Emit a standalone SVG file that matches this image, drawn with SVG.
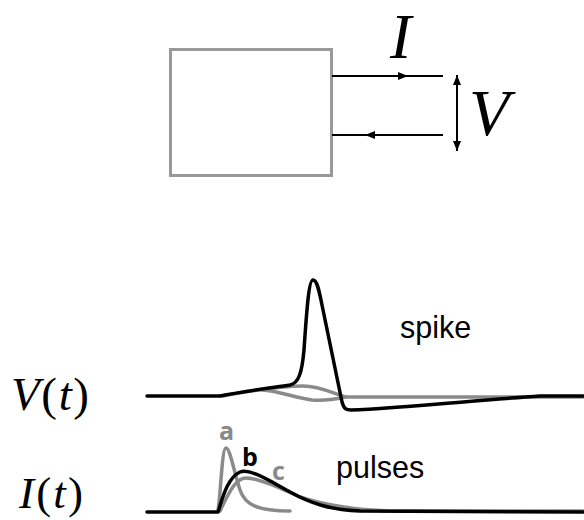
<svg xmlns="http://www.w3.org/2000/svg" width="584" height="520" viewBox="0 0 584 520">
<style>
.math{font-family:"Liberation Serif","DejaVu Serif",serif;fill:#000}
.it{font-style:italic}
.lbl{font-family:"Liberation Sans",Arial,sans-serif;fill:#000}
.ltr{font-family:"Open Sans","Liberation Sans",sans-serif;font-weight:bold;font-size:25px}
.wire{stroke:#000;stroke-width:2;fill:none}
.blk{stroke:#000;stroke-width:3.5;fill:none;stroke-linejoin:round;stroke-linecap:round}
.gry{stroke:#8a8a8a;stroke-width:3.5;fill:none;stroke-linejoin:round;stroke-linecap:round}
</style>
<defs>
<marker id="ah" viewBox="0 0 10 10" refX="10" refY="5" markerWidth="10" markerHeight="10" markerUnits="userSpaceOnUse" orient="auto">
<path d="M0,1 L10,5 L0,9 Z" fill="#000"/>
</marker>
</defs>
<g id="box">
<rect x="170.5" y="49.5" width="161" height="126" fill="#fff" stroke="#999" stroke-width="3"/>
</g>
<g id="connectors">
<line class="wire" x1="332" y1="76" x2="443" y2="76"/>
<line class="wire" x1="332" y1="76" x2="408" y2="76" marker-end="url(#ah)"/>
<line class="wire" x1="332" y1="135" x2="443" y2="135"/>
<line class="wire" x1="443" y1="135" x2="365" y2="135" marker-end="url(#ah)"/>
<line class="wire" x1="457" y1="100" x2="457" y2="75" marker-end="url(#ah)"/>
<line class="wire" x1="457" y1="100" x2="457" y2="151" marker-end="url(#ah)"/>
</g>
<g id="label-I"><text class="math it" x="390" y="58" font-size="64">I</text></g>
<g id="label-V"><text class="math it" x="469" y="135" font-size="66">V</text></g>
<g id="label-Vt"><text class="math" x="11" y="410" font-size="47" textLength="78"><tspan class="it">V</tspan>(<tspan class="it">t</tspan>)</text></g>
<g id="label-It"><text class="math" x="19" y="508" font-size="45" textLength="64"><tspan class="it">I</tspan>(<tspan class="it">t</tspan>)</text></g>
<g id="voltage">
<path class="gry" d="M343,397 L583,397"/>
<path class="gry" d="M222,396 C245,392 275,386 303,386 C320,386 332,393 345,397"/>
<path class="gry" d="M262,390 C280,391 295,398 312,400 C326,401 336,399 345,397"/>
<path class="blk" d="M147,396 L220,396 C240,392 270,388 290,385 C299,383 302,372 304,350 C307,305 309,280 313,280 C317,280 319,290 322,305 L342,402 C344,409 346,410 351,410 C400,408 480,400 540,396 L583,396"/>
<text class="lbl" x="400" y="338" font-size="30.5">spike</text>
</g>
<g id="current">
<path class="gry" d="M218,511 C221,490 222,448 226,448 C230,448 234,472 240,490 C245,505 258,511 290,511"/>
<path class="gry" d="M220,511 C228,495 235,478 246,478 C258,478 280,488 300,497 C330,507 360,510 390,511 L583,511"/>
<path class="blk" d="M147,512 L218,512 C222,500 227,478 240,472 C250,468 270,481 290,492 C310,503 330,510 360,511 L583,512"/>
<text class="ltr" x="219" y="440" fill="#8a8a8a">a</text>
<text class="ltr" x="242" y="466" fill="#000">b</text>
<text class="ltr" x="272" y="480" fill="#8a8a8a">c</text>
<text class="lbl" x="336" y="478" font-size="30.5">pulses</text>
</g>
</svg>
